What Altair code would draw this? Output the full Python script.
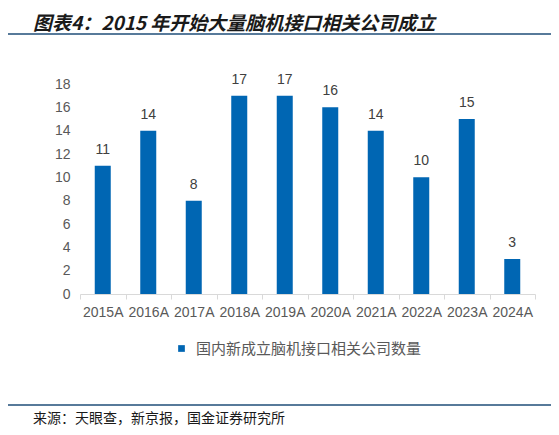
import altair as alt
import pandas as pd

years = ["2015A", "2016A", "2017A", "2018A", "2019A",
         "2020A", "2021A", "2022A", "2023A", "2024A"]
counts = [11, 14, 8, 17, 17, 16, 14, 10, 15, 3]
series_name = "国内新成立脑机接口相关公司数量"
title_text = "图表4：2015 年开始大量脑机接口相关公司成立"
source_text = "来源：天眼查，新京报，国金证券研究所"
y_ticks = [0, 2, 4, 6, 8, 10, 12, 14, 16, 18]

BLUE = "#0066B3"
GREY = "#595959"
NAVY = "#1F4E79"
FONT = "Liberation Sans, Noto Sans CJK SC"
CJK = "Noto Sans CJK SC"

df = pd.DataFrame({"year": years, "count": counts, "series": series_name})
one = pd.DataFrame({"k": [0]})

# shared x / y so both layers use the same axes
base = alt.Chart(df).encode(
    x=alt.X(
        "year:N",
        sort=years,
        scale=alt.Scale(paddingInner=0, paddingOuter=0),
        axis=alt.Axis(
            title=None,
            labelAngle=0,
            labelFont=FONT,
            labelFontSize=14,
            labelColor=GREY,
            labelPadding=6,
            labelOverlap=False,
            domainColor="#D9D9D9",
            tickColor="#D9D9D9",
            tickSize=5,
            tickBand="extent",
            grid=False,
        ),
    ),
    y=alt.Y(
        "count:Q",
        scale=alt.Scale(domain=[0, 18], nice=False),
        axis=alt.Axis(
            title=None,
            values=y_ticks,
            domain=False,
            ticks=False,
            grid=False,
            labelOverlap=False,
            labelFont=FONT,
            labelFontSize=14,
            labelColor=GREY,
            labelPadding=10,
        ),
    ),
)

bars = base.mark_bar(size=16).encode(
    color=alt.Color(
        "series:N",
        scale=alt.Scale(domain=[series_name], range=[BLUE]),
        legend=alt.Legend(
            title=None,
            orient="none",
            legendX=94,
            legendY=257,
            symbolType="square",
            symbolSize=45,
            labelFont=CJK,
            labelFontSize=15,
            labelColor=GREY,
            labelOffset=7,
            labelLimit=0,
            padding=0,
        ),
    ),
)

labels = base.mark_text(
    baseline="bottom", dy=-9, font=FONT, fontSize=14, color="#404040"
).encode(text="count:Q")

# header / footer decorations
title = alt.Chart(pd.DataFrame({"t": [title_text]})).mark_text(
    align="left", baseline="alphabetic", font=CJK, fontSize=19,
    fontStyle="italic", fontWeight="bold", color="#1A1A1A"
).encode(text="t:N", x=alt.value(-47), y=alt.value(-54))

top_line = alt.Chart(one).mark_rule(color=NAVY, strokeWidth=1.5).encode(
    x=alt.value(-75), x2=alt.value(471), y=alt.value(-50)
)
bottom_line = alt.Chart(one).mark_rule(color=NAVY, strokeWidth=1.5).encode(
    x=alt.value(-75), x2=alt.value(471), y=alt.value(321)
)

source = alt.Chart(pd.DataFrame({"t": [source_text]})).mark_text(
    align="left", baseline="middle", font=CJK, fontSize=14, color="#1A1A1A"
).encode(text="t:N", x=alt.value(-47), y=alt.value(335))

chart = (
    alt.layer(bars, labels, title, top_line, bottom_line, source)
    .properties(
        width=455,
        height=210,
        autosize=alt.AutoSizeParams(type="none"),
        padding={"left": 72, "top": 76, "right": 16, "bottom": 133},
    )
    .configure_view(stroke=None)
)

chart.save("out.html", embed_options={"renderer": "svg", "actions": False})
